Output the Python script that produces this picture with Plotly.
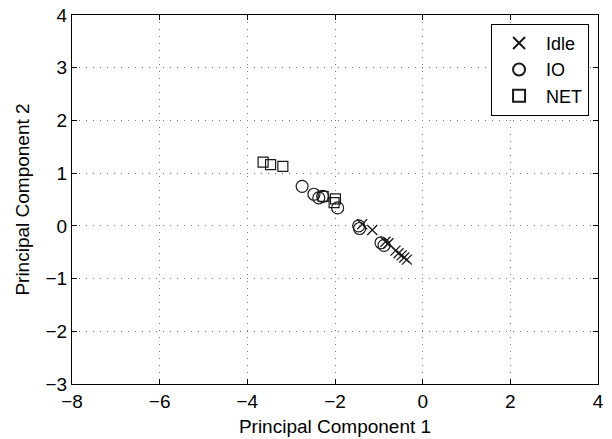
import plotly.graph_objects as go

idle_x = [-1.38, -1.15, -0.85, -0.78, -0.62, -0.55, -0.48, -0.42, -0.36]
idle_y = [0.03, -0.08, -0.30, -0.33, -0.47, -0.52, -0.56, -0.60, -0.64]

io_x = [-2.75, -2.48, -2.37, -2.28, -1.94, -1.46, -1.44, -0.95, -0.88]
io_y = [0.75, 0.60, 0.53, 0.56, 0.34, 0.00, -0.05, -0.32, -0.37]

net_x = [-3.64, -3.47, -3.19, -2.27, -1.99, -2.02]
net_y = [1.21, 1.16, 1.13, 0.56, 0.51, 0.44]

x_ticks = [-8, -6, -4, -2, 0, 2, 4]
y_ticks = [-3, -2, -1, 0, 1, 2, 3, 4]

FONT = "Liberation Sans, Arial, Helvetica, sans-serif"
ink = "#1a1a1a"
FS = 19

fig = go.Figure()
fig.add_trace(go.Scatter(x=idle_x, y=idle_y, mode="markers", name="Idle",
                         marker=dict(symbol="x-thin", size=10, line=dict(color=ink, width=1.3), color=ink)))
fig.add_trace(go.Scatter(x=io_x, y=io_y, mode="markers", name="IO",
                         marker=dict(symbol="circle-open", size=12, line=dict(color=ink, width=1.2), color=ink)))
fig.add_trace(go.Scatter(x=net_x, y=net_y, mode="markers", name="NET",
                         marker=dict(symbol="square-open", size=10, line=dict(color=ink, width=1.2), color=ink)))

axis_common = dict(
    showgrid=True, gridcolor="#777777", griddash="1px,6px", gridwidth=1,
    zeroline=False, showline=True, linecolor="black", linewidth=1, mirror="ticks",
    ticks="inside", ticklen=5, tickcolor="black", automargin=False,
    tickfont=dict(family=FONT, size=FS, color="black"),
)

fig.update_layout(
    width=612, height=439,
    margin=dict(l=72, r=14, t=15, b=55),
    paper_bgcolor="white", plot_bgcolor="white",
    font=dict(family=FONT, size=FS, color="black"),
    showlegend=True,
    legend=dict(x=0.983, y=0.976, xanchor="right", yanchor="top",
                bordercolor="black", borderwidth=1, bgcolor="white",
                font=dict(family=FONT, size=18), tracegroupgap=0,
                itemwidth=44, itemsizing="constant"),
    xaxis=dict(range=[-8, 4], tickvals=x_ticks, ticktext=[str(v).replace("-", "\u2212") for v in x_ticks],
               title=dict(text="Principal Component 1", standoff=8, font=dict(family=FONT, size=FS)),
               **axis_common),
    yaxis=dict(range=[-3, 4], tickvals=y_ticks, ticktext=[str(v).replace("-", "\u2212") for v in y_ticks],
               title=dict(text="Principal Component 2", standoff=10, font=dict(family=FONT, size=FS)),
               **axis_common),
)

fig.write_html("out.html")
